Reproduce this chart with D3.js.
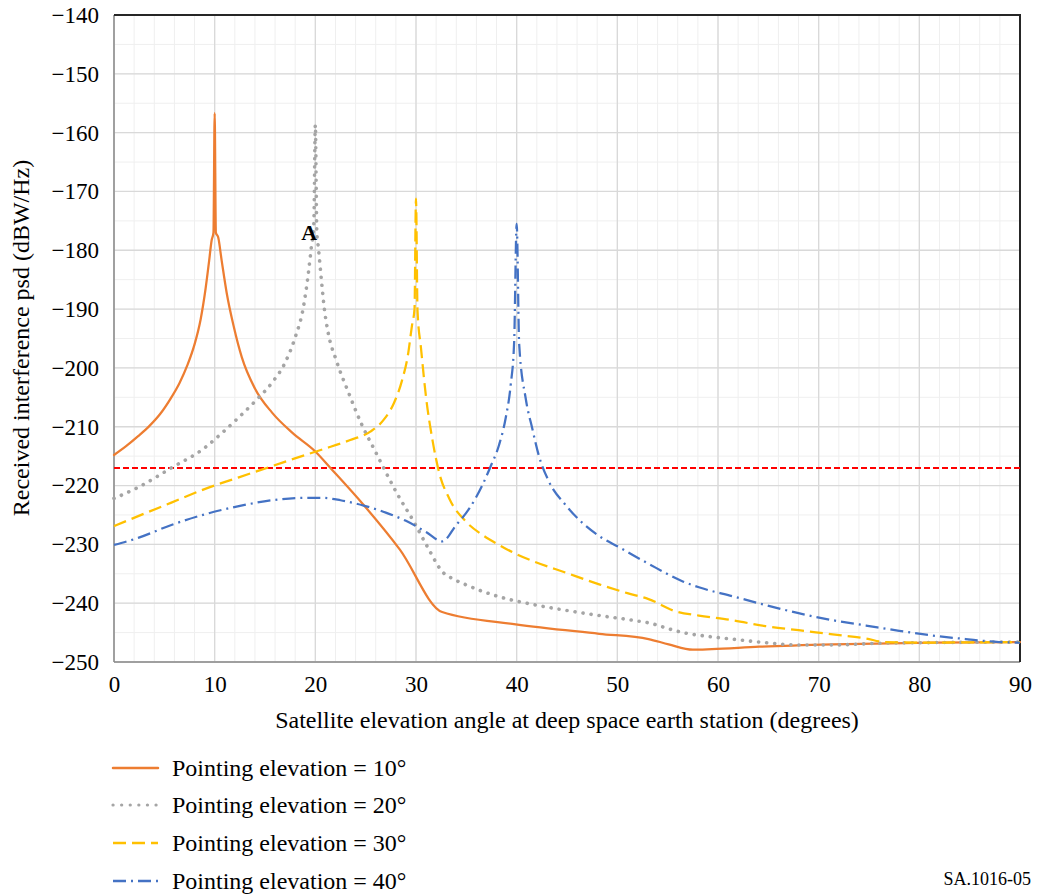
<!DOCTYPE html>
<html>
<head>
<meta charset="utf-8">
<script src="https://cdn.jsdelivr.net/npm/d3@7"></script>
<style>
  html, body { margin: 0; padding: 0; background: #fff; }
  svg { display: block; }
  svg text { font-family: "Liberation Serif", "Times New Roman", serif !important; fill: #000; }
</style>
</head>
<body>
<div id="chart"></div>
<script>
// Received interference psd vs satellite elevation, one curve per pointing elevation
const xTicks = [0, 10, 20, 30, 40, 50, 60, 70, 80, 90];
const yTicks = [-140, -150, -160, -170, -180, -190, -200, -210, -220, -230, -240, -250];
const threshold = -217;

const elev10 = [[0,-214.8],[1.2,-213.3],[2.4,-211.6],[3.5,-209.9],[4.6,-207.8],[5.7,-205],[6.5,-202.6],[7.3,-199.5],[8,-196],[8.6,-191.8],[9.1,-186.5],[9.45,-181.8],[9.7,-178.3],[9.88,-177],[10,-156.7],[10.12,-177],[10.35,-177.8],[10.7,-181.8],[11.2,-187.3],[11.9,-193],[12.7,-198.2],[14,-203.5],[15.7,-207.6],[17.7,-211],[20,-214.2],[21.5,-217],[24.8,-223.3],[28.4,-230.9],[32.6,-241.5],[39.9,-243.6],[48.2,-245.2],[53.1,-246.1],[55.1,-247],[57.5,-247.9],[59.4,-247.8],[64.1,-247.4],[71.4,-247],[81.3,-246.7],[90,-246.6]];
const elev20 = [[0,-222.2],[2.4,-220.3],[5.7,-217],[9,-213.6],[10.7,-211.1],[12.4,-208.4],[14,-205.7],[15.7,-202.5],[17,-199.1],[18,-194.8],[18.8,-189.8],[19.3,-184],[19.6,-179.5],[19.85,-175.5],[20,-158.7],[20.15,-177],[20.3,-179.5],[20.6,-185],[20.9,-190],[21.25,-193.8],[22.1,-198.8],[23.3,-204.2],[24.6,-209.6],[25.9,-214],[26.9,-217.4],[28.1,-221.3],[29.8,-226.2],[31.1,-230.3],[32.7,-234.8],[33.5,-235.7],[35,-236.9],[38.25,-238.9],[41.55,-240.2],[44.85,-241.2],[48.2,-242.1],[51.5,-242.9],[53.5,-243.5],[55,-244.3],[56.8,-245.1],[58.8,-245.6],[61.4,-246.1],[64.7,-246.7],[68,-247.1],[71.4,-247.1],[76.3,-246.8],[81.3,-246.7],[90,-246.6]];
const elev30 = [[0,-226.9],[2.4,-225.2],[5.7,-222.9],[9,-220.6],[12.4,-218.6],[15.7,-216.7],[19,-214.8],[21,-213.7],[23.4,-212.3],[25.5,-210.8],[26.8,-208.8],[27.8,-206],[28.6,-202.2],[29.2,-197.8],[29.6,-192.8],[29.85,-190],[30,-171.2],[30.15,-190.3],[30.5,-196.7],[31,-205],[31.65,-212.4],[32.3,-217.8],[33.3,-222.2],[35,-226.2],[36.6,-228.4],[38.25,-230.1],[39.9,-231.6],[41.55,-232.8],[44.85,-234.8],[48.2,-236.8],[51,-238.3],[53.1,-239.3],[55.8,-241.4],[58.1,-242.1],[61.4,-242.9],[64.7,-243.9],[68,-244.6],[71.4,-245.3],[74.7,-246],[76.5,-246.6],[80,-246.7],[90,-246.6]];
const elev40 = [[0,-230.1],[2.4,-228.9],[5.7,-226.7],[9,-224.9],[12.4,-223.5],[15.7,-222.5],[19,-222.1],[20.7,-222.1],[22.5,-222.5],[24.8,-223.4],[27,-224.6],[29,-226],[31,-227.9],[32.6,-229.5],[34,-226.7],[35.3,-223.9],[36.6,-219.9],[37.4,-216.8],[38.25,-213.1],[38.9,-208.6],[39.4,-203],[39.75,-195.6],[40,-175.5],[40.25,-196],[40.9,-205.2],[41.55,-210.3],[42.2,-214.9],[43.2,-219.3],[44.85,-223.3],[46.5,-226.3],[48.2,-228.6],[50.2,-230.5],[53.1,-233.3],[56.5,-236.3],[58.1,-237.3],[61.4,-238.8],[64.7,-240.3],[68,-241.7],[71.4,-242.9],[74.7,-243.8],[78,-244.7],[81.3,-245.5],[84.6,-246.1],[87.9,-246.6],[90,-246.7]];

const seriesNames = ["Pointing elevation = 10°", "Pointing elevation = 20°", "Pointing elevation = 30°", "Pointing elevation = 40°"];
const seriesData = [elev10, elev20, elev30, elev40];

const styles = [
  { color: "#ED7D31", width: 2.25, dash: null, cap: "round" },
  { color: "#A5A5A5", width: 3.6, dash: "0.1 8", cap: "round" },
  { color: "#FFC000", width: 2.25, dash: "13 6", cap: "butt" },
  { color: "#4472C4", width: 2.25, dash: "13 5 2 5", cap: "butt" },
];

const width = 1040, height = 894;
const margin = { top: 15, left: 114, right: 20, bottom: 232 };
const innerWidth = width - margin.left - margin.right;
const innerHeight = height - margin.top - margin.bottom;

const svg = d3.select("#chart").append("svg").attr("width", width).attr("height", height);

const x = d3.scaleLinear().domain([0, 90]).range([margin.left, margin.left + innerWidth]);
const y = d3.scaleLinear().domain([-250, -140]).range([margin.top + innerHeight, margin.top]);

// grid: minor then major
const grid = svg.append("g");
grid.selectAll("line.vminor").data(d3.range(0, 91, 2)).enter().append("line")
  .attr("x1", (d) => x(d)).attr("x2", (d) => x(d)).attr("y1", y(-140)).attr("y2", y(-250))
  .attr("stroke", "#efefef").attr("stroke-width", 1);
grid.selectAll("line.hminor").data(d3.range(-250, -139, 5)).enter().append("line")
  .attr("y1", (d) => y(d)).attr("y2", (d) => y(d)).attr("x1", x(0)).attr("x2", x(90))
  .attr("stroke", "#efefef").attr("stroke-width", 1);
grid.selectAll("line.vmajor").data(xTicks).enter().append("line")
  .attr("x1", (d) => x(d)).attr("x2", (d) => x(d)).attr("y1", y(-140)).attr("y2", y(-250))
  .attr("stroke", "#d9d9d9").attr("stroke-width", 1.3);
grid.selectAll("line.hmajor").data(yTicks).enter().append("line")
  .attr("y1", (d) => y(d)).attr("y2", (d) => y(d)).attr("x1", x(0)).attr("x2", x(90))
  .attr("stroke", "#d9d9d9").attr("stroke-width", 1.3);

// frame
svg.append("line").attr("x1", x(0)).attr("x2", x(0)).attr("y1", y(-140)).attr("y2", y(-250)).attr("stroke", "#8a8a8a").attr("stroke-width", 1.5);
svg.append("line").attr("x1", x(0)).attr("x2", x(90)).attr("y1", y(-250)).attr("y2", y(-250)).attr("stroke", "#8a8a8a").attr("stroke-width", 1.5);
svg.append("line").attr("x1", x(0)).attr("x2", x(90) + 1).attr("y1", y(-140)).attr("y2", y(-140)).attr("stroke", "#262626").attr("stroke-width", 2);
svg.append("line").attr("x1", x(90)).attr("x2", x(90)).attr("y1", y(-140)).attr("y2", y(-250)).attr("stroke", "#262626").attr("stroke-width", 2);

// axes
const xAxis = svg.append("g").attr("transform", `translate(0,${y(-250)})`)
  .call(d3.axisBottom(x).tickValues(xTicks).tickSize(0).tickPadding(14));
xAxis.select(".domain").remove();
xAxis.selectAll("text").attr("font-size", 23);

const yAxis = svg.append("g").attr("transform", `translate(${x(0)},0)`)
  .call(d3.axisLeft(y).tickValues(yTicks).tickSize(0).tickPadding(15));
yAxis.select(".domain").remove();
yAxis.selectAll("text").attr("font-size", 23);

svg.append("text")
  .attr("x", x(45)).attr("y", 728)
  .attr("text-anchor", "middle").attr("font-size", 24)
  .text("Satellite elevation angle at deep space earth station (degrees)");

const yMid = 338;
svg.append("text")
  .attr("x", 29).attr("y", yMid)
  .attr("text-anchor", "middle").attr("font-size", 24)
  .attr("transform", `rotate(-90,29,${yMid})`)
  .text("Received interference psd (dBW/Hz)");

// threshold
svg.append("line").attr("x1", x(0)).attr("x2", x(90)).attr("y1", y(threshold)).attr("y2", y(threshold))
  .attr("stroke", "#FF0000").attr("stroke-width", 2).attr("stroke-dasharray", "6 3");

// curves
const line = d3.line().x((d) => x(d[0])).y((d) => y(d[1])).curve(d3.curveMonotoneX);
seriesData.forEach((data, i) => {
  const s = styles[i];
  svg.append("path").datum(data)
    .attr("fill", "none").attr("stroke", s.color).attr("stroke-width", s.width)
    .attr("stroke-dasharray", s.dash).attr("stroke-linecap", s.cap).attr("stroke-linejoin", "round")
    .attr("d", line);
});

svg.append("text")
  .attr("x", x(19.4)).attr("y", y(-178.2))
  .attr("text-anchor", "middle").attr("font-size", 22).attr("font-weight", "bold")
  .text("A");

// legend
const legendY = [768, 805, 843, 881];
const legend = svg.append("g");
seriesNames.forEach((name, i) => {
  const s = styles[i];
  legend.append("line").attr("x1", 113).attr("x2", 158).attr("y1", legendY[i]).attr("y2", legendY[i])
    .attr("stroke", s.color).attr("stroke-width", i === 1 ? 3.2 : 2.5)
    .attr("stroke-dasharray", i === 1 ? "0.1 8.5" : s.dash).attr("stroke-linecap", s.cap);
  legend.append("text").attr("x", 172).attr("y", legendY[i] + 8).attr("font-size", 24).text(name);
});

svg.append("text").attr("x", 1031).attr("y", 885).attr("text-anchor", "end").attr("font-size", 18).text("SA.1016-05");
</script>
</body>
</html>
